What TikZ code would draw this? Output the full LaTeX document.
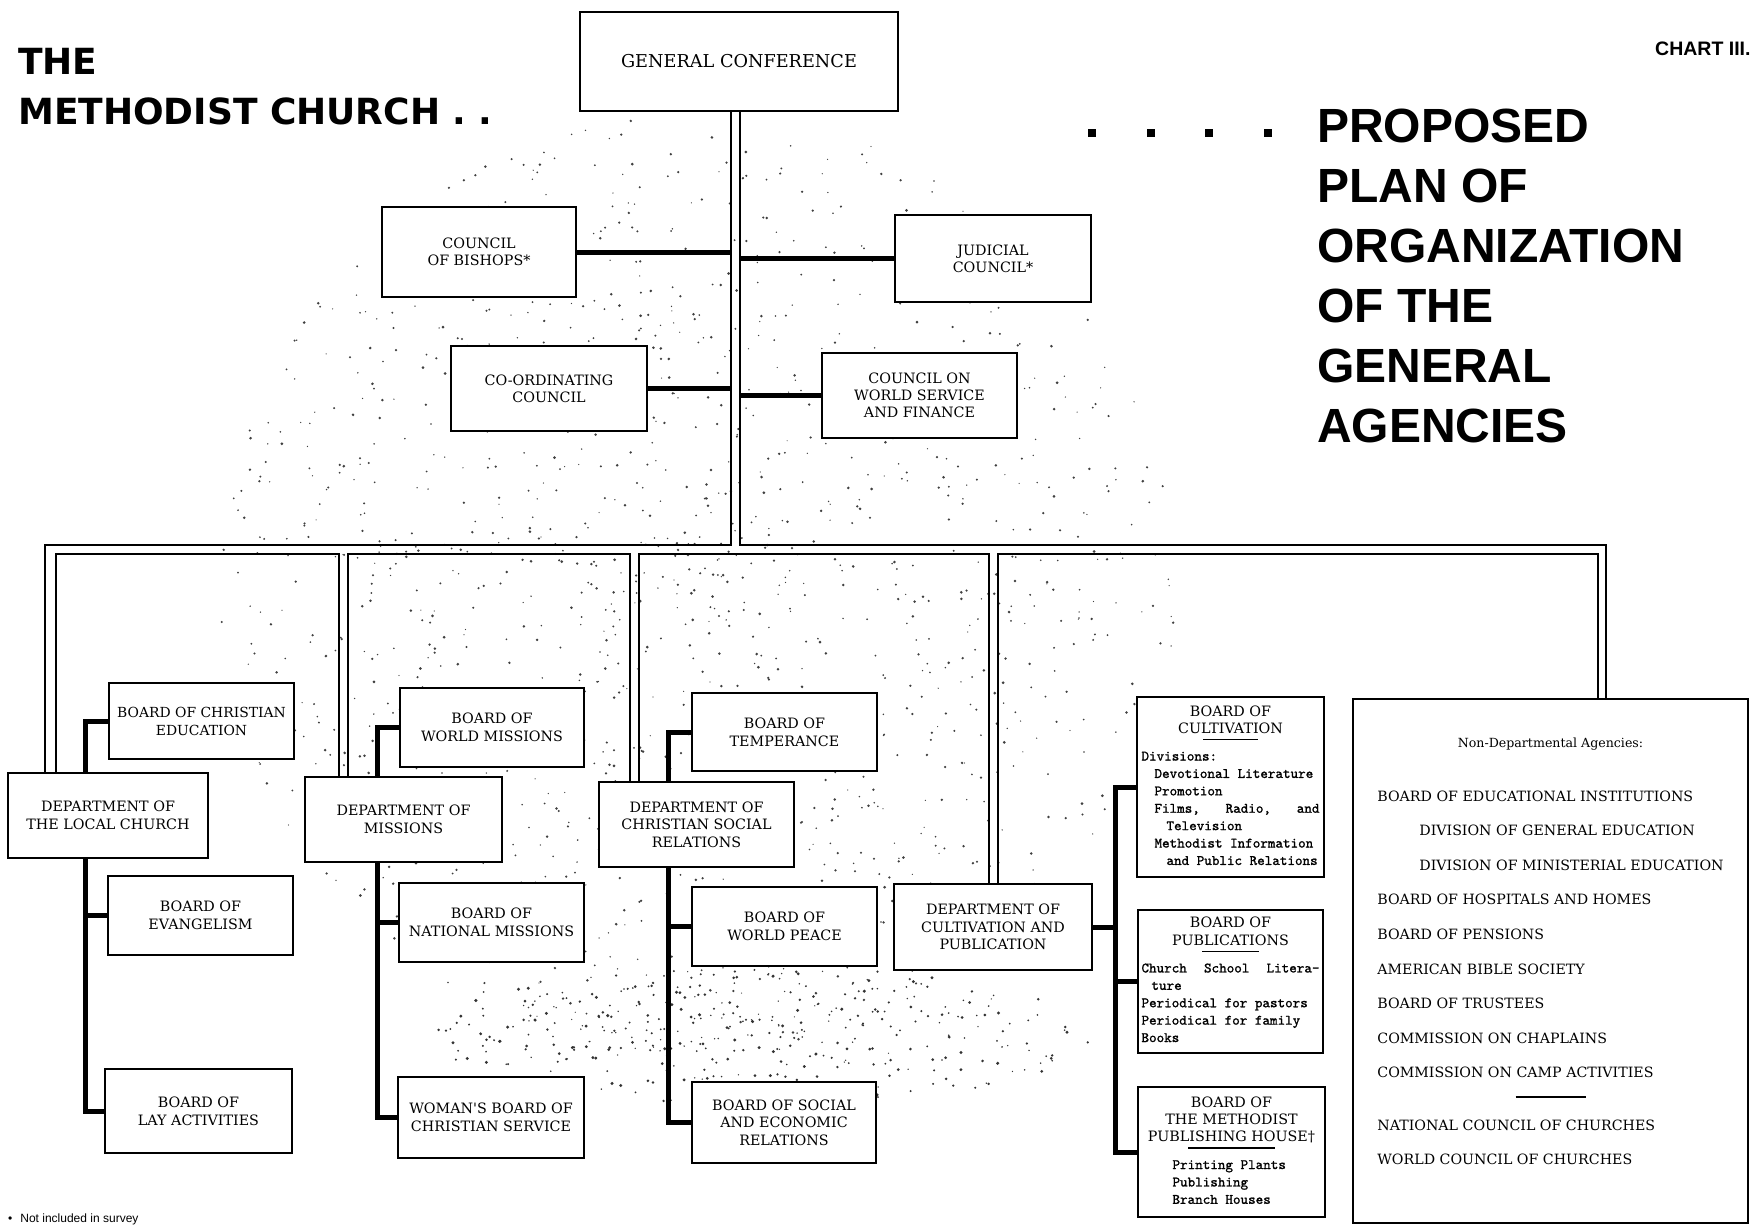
\documentclass[tikz,border=0pt]{standalone}
\usepackage{fontspec}
\newfontfamily\titlefont{DejaVu Sans}
\newfontfamily\headfont{Liberation Sans}
\newfontfamily\boxfont{DejaVu Serif}
\newfontfamily\monofont{lmmono10-regular.otf}[FakeBold=1.2]
\newcommand\monotxt{\monofont\fontsize{14.4}{17.4}\selectfont}
\pgfdeclarelayer{bg}
\pgfsetlayers{bg,main}
\begin{document}
\begin{tikzpicture}[x=1pt,y=-1pt,
  box/.style={draw, line width=2.4pt, fill=white, inner sep=0pt, align=center,
              font=\boxfont\fontsize{14.3}{18}\selectfont},
  dbl/.style={line width=2.8pt, line join=miter},
  sub/.style={line width=5pt, line join=miter},
  ttl/.style={anchor=base west, inner sep=0pt, font=\titlefont\bfseries\fontsize{36}{40}\selectfont},
  ptl/.style={anchor=base west, inner sep=0pt, font=\headfont\bfseries\fontsize{48}{52}\selectfont},
]
\useasboundingbox (0,0) rectangle (1753,1226);
\begin{pgfonlayer}{bg}
\fill[white] (0,0) rectangle (1753,1226);
% stippled halftone behind the upper part of the chart
\pgfmathsetseed{7}
\foreach \i in {1,...,1400}{
  \pgfmathsetmacro\ang{360*rnd}
  \pgfmathsetmacro\rr{pow(rnd,0.6)}
  \pgfmathsetmacro\dr{0.6+0.9*rnd}
  \fill[black!75] ({700+480*\rr*cos(\ang)},{585+470*\rr*sin(\ang)}) circle[radius=\dr pt];
}
\foreach \i in {1,...,380}{
  \pgfmathsetmacro\ang{360*rnd}
  \pgfmathsetmacro\rr{pow(rnd,0.6)}
  \pgfmathsetmacro\dr{0.7+1.0*rnd}
  \fill[black!80] ({760+330*\rr*cos(\ang)},{1035+70*\rr*sin(\ang)}) circle[radius=\dr pt];
}
\end{pgfonlayer}

% ---------- titles ----------
\node[ttl] (t1) at (18,74) {THE};
\node[ttl] (t2) at (18,124) {METHODIST CHURCH . .};
\node[ptl] (p1) at (1317,142) {PROPOSED};
\node[ptl] (p2) at (1317,202) {PLAN OF};
\node[ptl] (p3) at (1317,262) {ORGANIZATION};
\node[ptl] (p4) at (1317,322) {OF THE};
\node[ptl] (p5) at (1317,382) {GENERAL};
\node[ptl] (p6) at (1317,442) {AGENCIES};
\node[anchor=base west, inner sep=0pt, font=\headfont\bfseries\fontsize{19.5}{22}\selectfont] (chart) at (1655,55) {CHART III.};
\foreach \x in {1092,1151,1209,1268} \fill (\x-4,129) rectangle (\x+4,137);

% ---------- top boxes ----------
\node[box, minimum width=318pt, minimum height=99pt, font=\boxfont\fontsize{17.7}{22}\selectfont] (gc) at (739,61.5) {GENERAL CONFERENCE};
\node[box, minimum width=194pt, minimum height=90pt, font=\boxfont\fontsize{14.3}{17}\selectfont] (bishops) at (479,252) {COUNCIL\\OF BISHOPS*};
\node[box, minimum width=196pt, minimum height=87pt, font=\boxfont\fontsize{14.3}{17}\selectfont] (judicial) at (993,258.5) {JUDICIAL\\COUNCIL*};
\node[box, minimum width=196pt, minimum height=85pt, font=\boxfont\fontsize{14.3}{17}\selectfont] (coord) at (549,388.5) {CO-ORDINATING\\COUNCIL};
\node[box, minimum width=195pt, minimum height=85pt, font=\boxfont\fontsize{14.3}{16.8}\selectfont] (cwsf) at (919.5,395.5) {COUNCIL ON\\WORLD SERVICE\\AND FINANCE};

% ---------- departments ----------
\node[box, minimum width=200pt, minimum height=85pt] (dlc) at (108,815.5) {DEPARTMENT OF\\THE LOCAL CHURCH};
\node[box, minimum width=197pt, minimum height=85pt] (dm) at (403.5,819.5) {DEPARTMENT OF\\MISSIONS};
\node[box, minimum width=195pt, minimum height=85pt, font=\boxfont\fontsize{14.3}{17.5}\selectfont] (dcsr) at (696.5,824.5) {DEPARTMENT OF\\CHRISTIAN SOCIAL\\RELATIONS};
\node[box, minimum width=198pt, minimum height=86pt, font=\boxfont\fontsize{14.3}{17.5}\selectfont] (dcp) at (993,927) {DEPARTMENT OF\\CULTIVATION AND\\PUBLICATION};

% ---------- boards ----------
\node[box, minimum width=185pt, minimum height=76pt, font=\boxfont\fontsize{13.9}{18}\selectfont] (bce) at (201.5,721) {BOARD OF CHRISTIAN\\EDUCATION};
\node[box, minimum width=185pt, minimum height=79pt] (bev) at (200.5,915.5) {BOARD OF\\EVANGELISM};
\node[box, minimum width=187pt, minimum height=84pt] (bla) at (198.5,1111) {BOARD OF\\LAY ACTIVITIES};
\node[box, minimum width=184pt, minimum height=79pt] (bwm) at (492,727.5) {BOARD OF\\WORLD MISSIONS};
\node[box, minimum width=185pt, minimum height=79pt] (bnm) at (491.5,922.5) {BOARD OF\\NATIONAL MISSIONS};
\node[box, minimum width=186pt, minimum height=81pt] (wbcs) at (491,1117.5) {WOMAN'S BOARD OF\\CHRISTIAN SERVICE};
\node[box, minimum width=185pt, minimum height=78pt] (btemp) at (784.5,732) {BOARD OF\\TEMPERANCE};
\node[box, minimum width=185pt, minimum height=79pt] (bwp) at (784.5,926.5) {BOARD OF\\WORLD PEACE};
\node[box, minimum width=184pt, minimum height=81pt, font=\boxfont\fontsize{14.3}{17.5}\selectfont] (bser) at (784,1122.5) {BOARD OF SOCIAL\\AND ECONOMIC\\RELATIONS};

\node[box, minimum width=187pt, minimum height=180pt, font=\boxfont\fontsize{14.3}{17.4}\selectfont] (bcult) at (1230.5,787) {%
\begin{tabular}{@{}p{178pt}@{}}
\centering BOARD OF\tabularnewline
\centering CULTIVATION\tabularnewline
\centering\rule[11pt]{55pt}{1.5pt}\tabularnewline[-8pt]
\monotxt Divisions:\tabularnewline
\monotxt\hspace*{13pt}Devotional Literature\tabularnewline
\monotxt\hspace*{13pt}Promotion\tabularnewline
\monotxt\hspace*{13pt}Films,\hfill Radio,\hfill and\tabularnewline
\monotxt\hspace*{25pt}Television\tabularnewline
\monotxt\hspace*{13pt}Methodist Information\tabularnewline
\monotxt\hspace*{25pt}and Public Relations\tabularnewline
\end{tabular}};

\node[box, minimum width=185pt, minimum height=143pt, font=\boxfont\fontsize{14.3}{17.4}\selectfont] (bpub) at (1230.5,981.5) {%
\begin{tabular}{@{}p{178pt}@{}}
\centering BOARD OF\tabularnewline
\centering PUBLICATIONS\tabularnewline
\centering\rule[11pt]{57pt}{1.5pt}\tabularnewline[-8pt]
\monotxt Church\hfill School\hfill Litera-\tabularnewline
\monotxt\hspace*{10pt}ture\tabularnewline
\monotxt Periodical for pastors\tabularnewline
\monotxt Periodical for family\tabularnewline
\monotxt Books\tabularnewline
\end{tabular}};

\node[box, minimum width=187pt, minimum height=130pt, font=\boxfont\fontsize{14.3}{17.4}\selectfont] (bph) at (1231.5,1152) {%
\begin{tabular}{@{}p{178pt}@{}}
\centering BOARD OF\tabularnewline
\centering THE METHODIST\tabularnewline
\centering PUBLISHING HOUSE\textdagger\tabularnewline
\centering\rule[11pt]{87pt}{1.5pt}\tabularnewline[-8pt]
\monotxt\hspace*{30pt}Printing Plants\tabularnewline
\monotxt\hspace*{30pt}Publishing\tabularnewline
\monotxt\hspace*{30pt}Branch Houses\tabularnewline
\end{tabular}};

\node[box, line width=2.8pt, minimum width=395pt, minimum height=524pt, font=\boxfont\fontsize{14.2}{34.6}\selectfont] (ndep) at (1550.5,961) {%
\begin{tabular}{@{}l@{}}
\multicolumn{1}{@{}c@{}}{\fontsize{12.6}{14}\selectfont Non-Departmental Agencies:}\\[19.4pt]
BOARD OF EDUCATIONAL INSTITUTIONS\\
\hspace*{42pt}DIVISION OF GENERAL EDUCATION\\
\hspace*{42pt}DIVISION OF MINISTERIAL EDUCATION\\
BOARD OF HOSPITALS AND HOMES\\
BOARD OF PENSIONS\\
AMERICAN BIBLE SOCIETY\\
BOARD OF TRUSTEES\\
COMMISSION ON CHAPLAINS\\
COMMISSION ON CAMP ACTIVITIES\\
\multicolumn{1}{@{}c@{}}{\rule[15pt]{70pt}{1.5pt}}\\[-17pt]
NATIONAL COUNCIL OF CHURCHES\\
WORLD COUNCIL OF CHURCHES\\[24pt]
\end{tabular}};

\node[anchor=base west, inner sep=0pt, font=\headfont\fontsize{12}{14}\selectfont] (note) at (8,1222) {\textbullet\hspace{8pt}Not included in survey};

% ---------- connectors ----------
\coordinate (oA) at (45,545);
\coordinate (iA) at (56,554);
\coordinate (iB1) at (339,554);
\coordinate (iB2) at (348,554);
\coordinate (iC1) at (630,554);
\coordinate (iC2) at (639,554);
\coordinate (iD1) at (989,554);
\coordinate (iD2) at (998,554);
\coordinate (iE) at (1598,554);
\coordinate (oE) at (1606,545);
\coordinate (tL) at (731,545);
\coordinate (tR) at (740,545);
\coordinate (gA) at (85,0);
\coordinate (gB) at (377,0);
\coordinate (gC) at (668,0);
\coordinate (gD) at (1115,0);

\begin{pgfonlayer}{bg}
\draw[dbl] (oA |- dlc.north) -- (oA) -- (tL) -- (tL |- gc.south);
\draw[dbl] (tR |- gc.south) -- (tR) -- (oE) -- (oE |- ndep.north);
\draw[dbl] (iA |- dlc.north) -- (iA) -- (iB1) -- (iB1 |- dm.north);
\draw[dbl] (iB2 |- dm.north) -- (iB2) -- (iC1) -- (iC1 |- dcsr.north);
\draw[dbl] (iC2 |- dcsr.north) -- (iC2) -- (iD1) -- (iD1 |- dcp.north);
\draw[dbl] (iD2 |- dcp.north) -- (iD2) -- (iE) -- (iE |- ndep.north);

\draw[sub] (bishops.east) -- (bishops.east -| tL);
\draw[sub] (judicial.west) -- (judicial.west -| tR);
\draw[sub] (coord.east) -- (coord.east -| tL);
\draw[sub] (cwsf.west) -- (cwsf.west -| tR);

\draw[sub] (bce.west) -| (gA |- bla.west) -- (bla.west);
\draw[sub] (bev.west) -- (bev.west -| gA);
\draw[sub] (bwm.west) -| (gB |- wbcs.west) -- (wbcs.west);
\draw[sub] (bnm.west) -- (bnm.west -| gB);
\draw[sub] (btemp.west) -| (gC |- bser.west) -- (bser.west);
\draw[sub] (bwp.west) -- (bwp.west -| gC);
\draw[sub] (bcult.west) -| (gD |- bph.west) -- (bph.west);
\draw[sub] (bpub.west) -- (bpub.west -| gD);
\draw[sub] (dcp.east) -- (dcp.east -| gD);
\end{pgfonlayer}
\end{tikzpicture}
\end{document}
